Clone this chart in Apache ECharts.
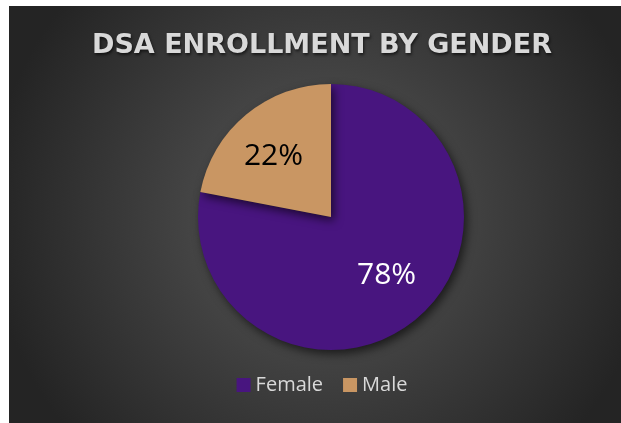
<!DOCTYPE html>
<html>
<head>
<meta charset="utf-8">
<script src="https://cdn.jsdelivr.net/npm/echarts@6/dist/echarts.min.js"></script>
<style>
  html, body { margin: 0; padding: 0; background: #ffffff; overflow: hidden; }
  #chart { position: absolute; left: 9px; top: 6px; width: 626px; height: 417px; }
</style>
</head>
<body>
<div id="chart"></div>
<script>
const genders = ['Female', 'Male'];
const enrollmentShare = [78, 22];
const sliceColors = ['#48157f', '#c99663'];
const labelColors = ['#ffffff', '#000000'];
// small nudges so the percentage labels sit where the original put them
const labelNudges = [[2, -6], [-4, 4]];

const chart = echarts.init(document.getElementById('chart'));

const pieData = genders.map((name, i) => ({
  name,
  value: enrollmentShare[i],
  itemStyle: { color: sliceColors[i] },
}));

const labelData = genders.map((name, i) => ({
  name,
  value: enrollmentShare[i],
  label: { color: labelColors[i], offset: labelNudges[i] },
}));

chart.setOption({
  animation: false,
  backgroundColor: {
    type: 'radial',
    x: 0.5,
    y: 0.5,
    r: 0.8,
    colorStops: [
      { offset: 0, color: '#595959' },
      { offset: 1, color: '#242424' },
    ],
  },
  title: {
    text: 'DSA ENROLLMENT BY GENDER',
    left: 'center',
    top: 21,
    textStyle: {
      fontFamily: 'DejaVu Sans',
      fontWeight: 'bold',
      fontSize: 27,
      color: '#d9d9d9',
      textShadowColor: 'rgba(0, 0, 0, 0.6)',
      textShadowBlur: 3,
      textShadowOffsetX: 1,
      textShadowOffsetY: 2,
    },
  },
  legend: {
    data: genders,
    left: 'center',
    top: 364,
    icon: 'rect',
    itemWidth: 14,
    itemHeight: 14,
    itemGap: 20,
    textStyle: { color: '#d9d9d9', fontSize: 20, fontFamily: 'Open Sans' },
  },
  series: [
    {
      name: 'Enrollment',
      type: 'pie',
      center: [322, 211],
      radius: [0, 133],
      startAngle: 90,
      clockwise: true,
      silent: true,
      label: { show: false },
      labelLine: { show: false },
      itemStyle: {
        shadowColor: 'rgba(0, 0, 0, 0.6)',
        shadowBlur: 10,
        shadowOffsetX: 3,
        shadowOffsetY: 4,
      },
      data: pieData,
    },
    {
      name: 'Labels',
      type: 'pie',
      center: [322, 211],
      radius: [0, 162],
      startAngle: 90,
      clockwise: true,
      silent: true,
      itemStyle: { color: 'transparent' },
      labelLine: { show: false },
      label: {
        show: true,
        position: 'inside',
        formatter: '{c}%',
        fontFamily: 'Open Sans',
        fontSize: 30,
      },
      data: labelData,
    },
  ],
});
</script>
</body>
</html>
